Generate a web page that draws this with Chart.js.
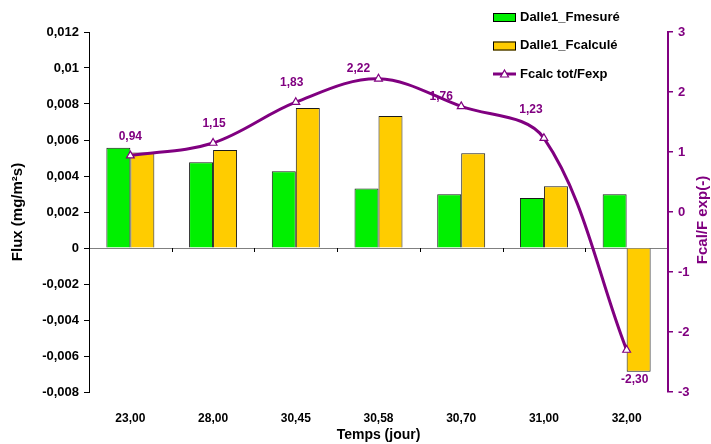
<!DOCTYPE html>
<html>
<head>
<meta charset="utf-8">
<script src="https://cdn.jsdelivr.net/npm/chart.js@4.4.1/dist/chart.umd.min.js"></script>
<style>
    body { margin: 0; background: #fff; }
    #wrap { width: 711px; height: 444px; position: relative; }
</style>
</head>
<body>
<div id="wrap"><canvas id="fluxChart"></canvas></div>
<script>
// Data
const categories = ['23,00', '28,00', '30,45', '30,58', '30,70', '31,00', '32,00'];
const fMesure = [0.00557, 0.00476, 0.00426, 0.00330, 0.00298, 0.00278, 0.00298];
const fCalcule = [0.00530, 0.00544, 0.00778, 0.00733, 0.00526, 0.00343, -0.00687];
const ratio = [0.94, 1.15, 1.83, 2.22, 1.76, 1.23, -2.30];

const purple = '#800080';
const fontName = "'Liberation Sans', Arial, sans-serif";

function frNum(v, digits) {
    return String(Number(v.toFixed(digits))).replace('.', ',');
}

// Value labels on the ratio line, nudged like the original
const labelOffsets = [[0, -19], [1, -19], [-4, -20], [-20, -10], [-20, -10], [-13, -29], [8, 30]];

const extrasPlugin = {
    id: 'extras',
    beforeDatasetsDraw(chart) {
        // small category ticks along the zero line
        const ctx = chart.ctx;
        const x = chart.scales.x;
        const y0 = chart.scales.y.getPixelForValue(0);
        const step = (x.right - x.left) / categories.length;
        ctx.save();
        ctx.strokeStyle = '#000';
        ctx.lineWidth = 1;
        ctx.beginPath();
        for (let i = 1; i < categories.length; i++) {
            const px = Math.round(x.left + step * i) + 0.5;
            ctx.moveTo(px, y0);
            ctx.lineTo(px, y0 + 4);
        }
        ctx.stroke();
        ctx.restore();
    },
    afterDatasetsDraw(chart) {
        const ctx = chart.ctx;
        const meta = chart.getDatasetMeta(0);
        ctx.save();
        ctx.font = 'bold 12px ' + fontName;
        ctx.fillStyle = purple;
        ctx.textAlign = 'center';
        ctx.textBaseline = 'middle';
        meta.data.forEach((pt, i) => {
            const off = labelOffsets[i];
            ctx.fillText(ratio[i].toFixed(2).replace('.', ','), pt.x + off[0], pt.y + off[1]);
        });
        ctx.restore();
    },
    afterDraw(chart) {
        const ctx = chart.ctx;

        // right axis title, reading bottom to top
        ctx.save();
        ctx.translate(703, 220);
        ctx.rotate(-Math.PI / 2);
        ctx.font = 'bold 15px ' + fontName;
        ctx.fillStyle = purple;
        ctx.textAlign = 'center';
        ctx.textBaseline = 'middle';
        ctx.fillText('Fcal/F exp(-)', 0, 0);
        ctx.restore();

        // legend, stacked top right
        const ds = chart.data.datasets;
        const items = [ds[1], ds[2], ds[0]];
        const lx = 493, ly = 17, gap = 28.5;
        ctx.save();
        ctx.font = 'bold 13px ' + fontName;
        ctx.textBaseline = 'middle';
        ctx.textAlign = 'left';
        items.forEach((d, i) => {
            const cy = ly + gap * i;
            if (d.type === 'line') {
                ctx.strokeStyle = purple;
                ctx.lineWidth = 3;
                ctx.beginPath();
                ctx.moveTo(lx, cy);
                ctx.lineTo(lx + 23, cy);
                ctx.stroke();
                ctx.fillStyle = '#fff';
                ctx.lineWidth = 1.2;
                ctx.beginPath();
                ctx.moveTo(lx + 11.5, cy - 4);
                ctx.lineTo(lx + 15.5, cy + 3);
                ctx.lineTo(lx + 7.5, cy + 3);
                ctx.closePath();
                ctx.fill();
                ctx.stroke();
            } else {
                ctx.fillStyle = d.backgroundColor;
                ctx.fillRect(lx, cy - 4, 23, 9);
                ctx.strokeStyle = '#000';
                ctx.lineWidth = 1;
                ctx.strokeRect(lx + 0.5, cy - 3.5, 22, 8);
            }
            ctx.fillStyle = '#000';
            ctx.fillText(d.label, lx + 27, cy);
        });
        ctx.restore();
    }
};

const chartCtx = document.getElementById('fluxChart').getContext('2d');
new Chart(chartCtx, {
    type: 'bar',
    data: {
        labels: categories,
        datasets: [{
            type: 'line',
            label: 'Fcalc tot/Fexp',
            data: ratio,
            yAxisID: 'y2',
            borderColor: purple,
            borderWidth: 3,
            tension: 0.35,
            pointStyle: 'triangle',
            pointRadius: 4.5,
            pointBackgroundColor: '#fff',
            pointBorderColor: purple,
            pointBorderWidth: 1.2,
            order: 0
        }, {
            label: 'Dalle1_Fmesuré',
            data: fMesure,
            yAxisID: 'y',
            backgroundColor: '#00f000',
            borderColor: '#1a1a1a',
            borderWidth: 1,
            order: 1
        }, {
            label: 'Dalle1_Fcalculé',
            data: fCalcule,
            yAxisID: 'y',
            backgroundColor: '#ffcc00',
            borderColor: '#1a1a1a',
            borderWidth: 1,
            order: 2
        }]
    },
    options: {
        responsive: true,
        maintainAspectRatio: false,
        animation: false,
        layout: { padding: { top: 32, left: 0, right: 0, bottom: 0 } },
        datasets: {
            bar: { categoryPercentage: 0.58, barPercentage: 1 }
        },
        plugins: {
            legend: { display: false },
            tooltip: { enabled: false }
        },
        scales: {
            x: {
                grid: { display: false, drawTicks: false },
                border: { display: false },
                ticks: {
                    color: '#000',
                    padding: 19,
                    font: { family: fontName, size: 12, weight: 'bold' }
                },
                title: {
                    display: true,
                    text: 'Temps (jour)',
                    color: '#000',
                    padding: { top: 0, bottom: 0 },
                    font: { family: fontName, size: 14, weight: 'bold' }
                },
                afterFit(scale) { scale.height = 52; }
            },
            y: {
                position: 'left',
                min: -0.008,
                max: 0.012,
                ticks: {
                    stepSize: 0.002,
                    color: '#000',
                    padding: 5,
                    font: { family: fontName, size: 13, weight: 'bold' },
                    callback: v => frNum(v, 3)
                },
                grid: {
                    color: c => (c.tick && c.tick.value === 0 ? '#808080' : 'rgba(0,0,0,0)'),
                    tickColor: '#000',
                    tickLength: 5,
                    lineWidth: 1
                },
                border: { color: '#000', width: 1 },
                title: {
                    display: true,
                    text: 'Flux (mg/m²s)',
                    color: '#000',
                    padding: { top: 9, bottom: 0 },
                    font: { family: fontName, size: 15, weight: 'bold' }
                },
                afterFit(scale) { scale.width = 89; }
            },
            y2: {
                position: 'right',
                min: -3,
                max: 3,
                ticks: {
                    stepSize: 1,
                    color: purple,
                    padding: 5,
                    font: { family: fontName, size: 13, weight: 'bold' }
                },
                grid: {
                    drawOnChartArea: false,
                    color: purple,
                    tickLength: 5,
                    lineWidth: 1.5
                },
                border: { color: purple, width: 2 },
                title: { display: false },
                afterFit(scale) { scale.width = 43; }
            }
        }
    },
    plugins: [extrasPlugin]
});
</script>
</body>
</html>
